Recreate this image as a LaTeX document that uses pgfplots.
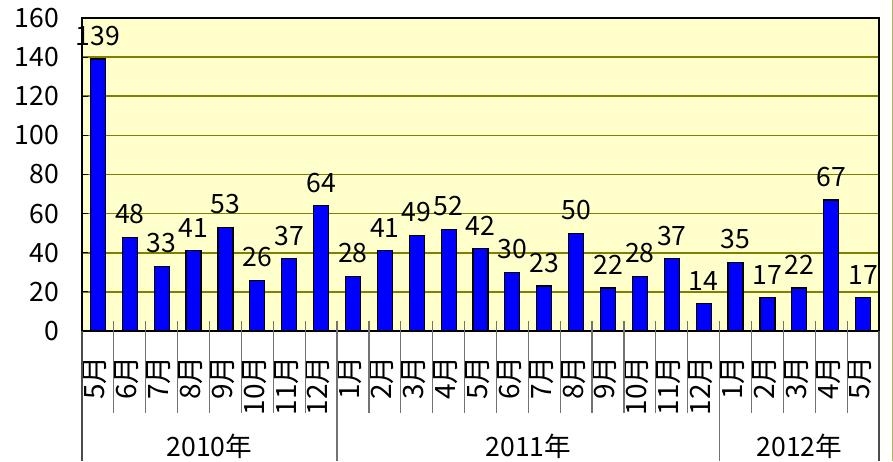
\documentclass[border=0pt]{standalone}
\usepackage{pgfplots}
\pgfplotsset{compat=1.18}
\usepackage{fontspec}
\setmainfont{Noto Sans CJK JP}
\definecolor{bgyellow}{HTML}{FFFFCC}
\definecolor{gridolive}{HTML}{808000}
\definecolor{barblue}{HTML}{0000FF}
\newcommand{\lblfont}{\fontsize{13.3}{15}\selectfont}
\begin{document}
\begin{tikzpicture}
\useasboundingbox (0,0) rectangle (446.5pt,230.5pt);
\begin{axis}[
  at={(41pt,65pt)}, anchor=south west,
  scale only axis, width=398.5pt, height=156.5pt,
  xmin=-0.5, xmax=24.5, ymin=0, ymax=160,
  ytick={0,20,...,160},
  xtick={0,...,24},
  xticklabels={5月,6月,7月,8月,9月,10月,11月,12月,1月,2月,3月,4月,5月,6月,7月,8月,9月,10月,11月,12月,1月,2月,3月,4月,5月},
  x tick style={draw=none},
  ytick pos=left,
  y tick style={black, line width=0.6pt},
  tick align=inside,
  major tick length=3pt,
  tick label style={font=\lblfont},
  /pgf/number format/assume math mode=true,
  yticklabel style={anchor=east, xshift=-8pt},
  xticklabel style={rotate=90, anchor=east, inner sep=0pt, xshift=-9.5pt, yshift=1.5pt, font=\fontsize{14}{16}\selectfont},
  ymajorgrids,
  major grid style={gridolive, line width=0.8pt},
  axis line style={black, line width=0.8pt},
  axis background/.style={fill=bgyellow},
  ybar, bar width=7.5pt,
  nodes near coords,
  every node near coord/.append style={font=\lblfont, yshift=3pt, text=black},
  clip=false,
]
\addplot[draw=black, fill=barblue, line width=0.6pt] coordinates {
(0,139) (1,48) (2,33) (3,41) (4,53) (5,26) (6,37) (7,64)
(8,28) (9,41) (10,49) (11,52) (12,42) (13,30) (14,23) (15,50) (16,22) (17,28) (18,37) (19,14)
(20,35) (21,17) (22,22) (23,67) (24,17)
};
\pgfplotsinvokeforeach{0.5,1.5,2.5,3.5,4.5,5.5,6.5,8.5,9.5,10.5,11.5,12.5,13.5,14.5,15.5,16.5,17.5,18.5,20.5,21.5,22.5,23.5}{
  \draw[black!55, line width=0.6pt] (axis cs:#1,0) ++(0pt,5pt) -- ++(0pt,-46pt);
}
\pgfplotsinvokeforeach{7.5,19.5}{
  \draw[black!55, line width=0.6pt] (axis cs:#1,0) ++(0pt,5pt) -- ++(0pt,-70pt);
}
\pgfplotsinvokeforeach{-0.5,24.5}{
  \draw[black!70, line width=0.6pt] (axis cs:#1,0) -- ++(0pt,-65pt);
}
\node[font=\lblfont] at (axis cs:3.5,0) [yshift=-57.5pt] {2010年};
\node[font=\lblfont] at (axis cs:13.5,0) [yshift=-57.5pt] {2011年};
\node[font=\lblfont] at (axis cs:22,0) [yshift=-57.5pt] {2012年};
\end{axis}
\draw[gridolive!60, line width=0.6pt] (446.2pt,0) -- (446.2pt,230.5pt);
\end{tikzpicture}
\end{document}
